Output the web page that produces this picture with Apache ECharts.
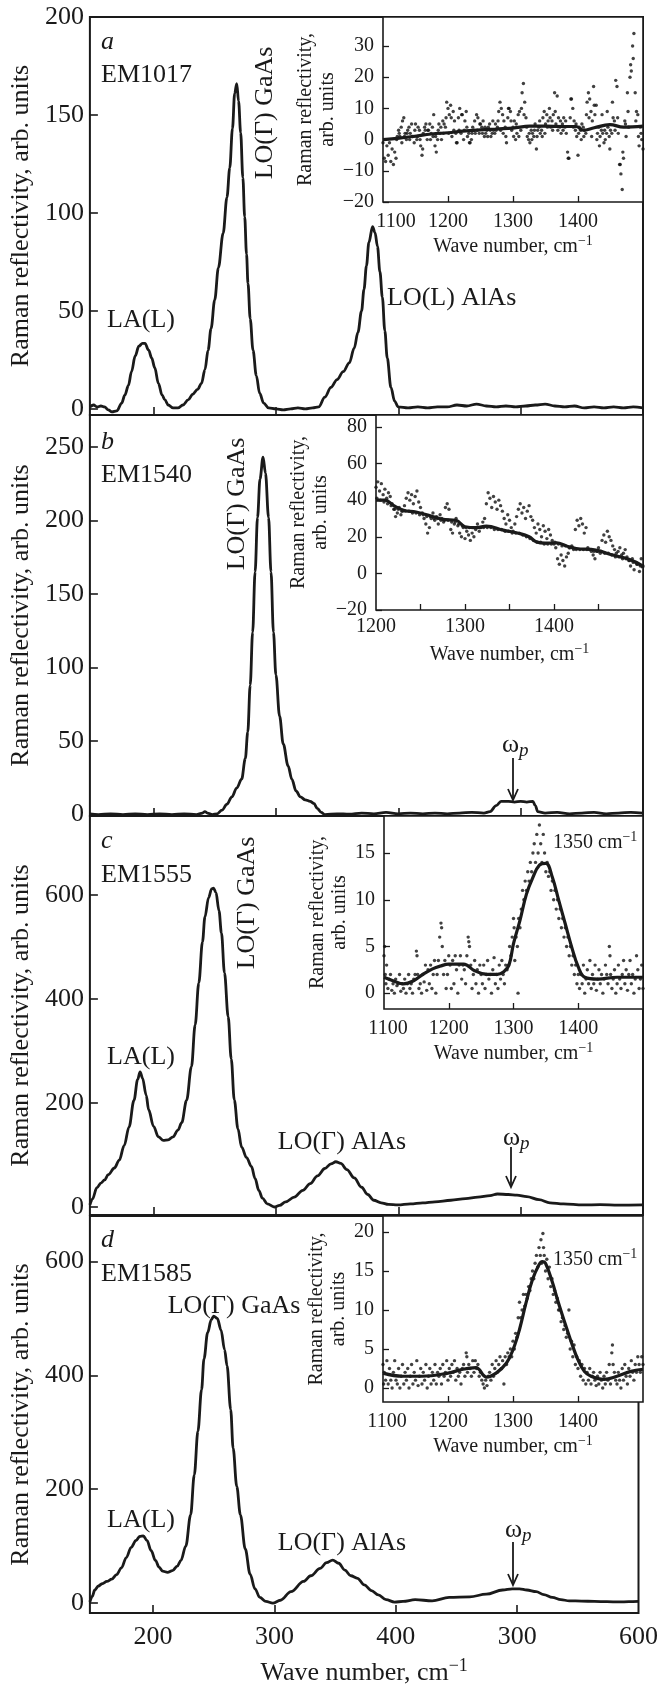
<!DOCTYPE html>
<html><head><meta charset="utf-8">
<script src="https://cdn.jsdelivr.net/npm/echarts@6/dist/echarts.min.js"></script>
<style>html,body{margin:0;padding:0;background:#fff}#c{width:661px;height:1687px}</style>
</head><body><div id="c"></div><script>
// ---------------- DATA ----------------
const xTickValues = [200, 300, 400, 500];
const xLabelValues = [200, 300, 400, 500, 600];
const xLabelTexts = ['200', '300', '400', '300', '600'];

const mainA = [[148,1],[151,2],[154,1],[157,1.5],[160,1],[163,-0.5],[166,-1.5],[170,-1],[174,3],[176.5,7],[179.5,12],[182,19],[185,27],[188,32],[191,33.5],[193,33.5],[196,30],[198.5,26],[201,21],[204,13],[207,7],[209.3,4.6],[212,2],[216,0.5],[220,0.5],[224,2],[228.3,4.6],[232,7.5],[236,10],[239.2,13],[242,20],[244.6,30],[247,41],[250,55.6],[253,72],[256.9,89.7],[260,108],[262.3,123],[264.5,143],[266.3,161],[268,166],[269.5,157],[271.2,141],[273,118],[274.5,98],[276,79],[277.2,64],[279,46],[281.3,30],[284,17],[286.7,8],[290,3],[294,0.5],[300,0],[306,-0.5],[312,0],[318,0.5],[324,0],[330,0.5],[335,1],[340,6],[345,11],[350,15],[355,19],[360,23.5],[364,31],[367,39],[370,50],[372,61],[374,73],[376,85],[379,93],[381,90],[383,83],[385,70],[387,57],[389,40],[391,26],[394,11],[397,4],[400,1],[408,0.5],[416,1],[424,0.5],[432,1],[440,1],[448,2],[456,1.5],[464,2.5],[472,1.5],[480,1],[488,1.5],[496,1],[504,1.5],[512,2],[520,2.5],[528,1.5],[536,1],[544,1.5],[552,0.5],[560,1],[568,0.5],[576,1],[584,0.5],[592,1],[600,0.5]];

const mainB = [[148,0.5],[155,0],[165,0.5],[175,0],[185,0.5],[195,0],[205,0.5],[215,0],[225,0.5],[235,0],[240,1],[242,2],[244,1],[248,0],[252,0.5],[256,3],[260,7],[264,12],[268,18],[272,24],[275,38],[277,56],[279,88],[281,124],[283,165],[285,202],[287,228],[289.5,243],[291.5,232],[294,202],[296,165],[298,124],[300,95],[303,67],[306,48],[310,33],[313,24],[316.5,16],[320,12],[324,10],[328,9],[331,7.5],[334,4],[337,1.5],[340,0],[350,0.5],[360,0.2],[370,1],[380,0.5],[390,1.5],[400,0.5],[410,1],[420,0.5],[430,1],[440,0.5],[450,1],[460,1.5],[470,1],[475,2],[480,6],[484,9],[490,9],[495,8.5],[500,9],[505,8.5],[510,9],[512,6],[514,2],[520,1],[530,1.5],[540,0.5],[550,1],[560,1.5],[570,0.5],[580,1],[590,1.5],[600,1]];

const mainC = [[148,4],[150,15],[153.7,37],[157,46],[160,52],[163,62],[168,75],[172,90],[176,118],[180,154],[184,205],[187,245],[189,260],[191,248],[194,215],[196,187],[200,155],[204,135],[208,128],[212,129],[216,135],[220,148],[223,162],[227,205],[231,270],[234,350],[237,431],[240,510],[242,558],[245,595],[247.5,612],[249,613],[251,605],[253.5,570],[255.5,527],[258,450],[261,366],[263.5,285],[266,206],[269,150],[272,115],[276,95],[280,78],[283,55],[286,32],[289,17],[293,6],[298.7,0],[303,3],[308,10],[315,19],[322,32],[328,45],[334,60],[340,74],[345,83],[349,87],[353,84],[358,72],[364,56],[370,38],[375,24],[380,13],[386,8],[392,5],[399.6,4],[410,6],[420,8],[430,10],[443,13],[455,16],[465,19],[475,22],[481,25],[490,24],[497,23],[505,20],[515,14],[524,8],[535,6],[551,4],[565,4.5],[580,3.5],[600,4]];

const mainD = [[148,2],[150,12],[152,23],[155,30],[158,34],[162,38],[166,42],[170,50],[174,62],[178,80],[182,98],[186,110],[189,117],[192,118],[195,110],[198.5,92],[202,75],[205,63],[208,56],[212,54],[216,57],[220,65],[223,75],[227,100],[231,155],[234,225],[237,302],[240,375],[242,429],[245,475],[248,498],[250,504],[253,500],[256,480],[259,445],[261,417],[264,340],[266,272],[269,205],[272,155],[276,95],[280,51],[284,25],[288,10],[293,3],[298.7,0],[305,5],[313.7,20],[324,38],[330,48],[337.7,61],[343,71],[348,75.5],[353,70],[358,58],[363,48],[368.5,43.6],[374,32],[380,22],[385.6,14.5],[392,6],[399,1.7],[406,3],[416,6],[430,4],[444,10],[461,11],[474.6,15.7],[488,23],[496,25],[502,25],[508,23],[515.7,20],[522,15],[529,10],[536,6],[543,4],[553,3.5],[563.7,3],[574,2.5],[584,2],[592,2.5],[600,3]];

const fitA = [[1100,0],[1125,0.5],[1146,1],[1175,1.8],[1200,2.2],[1223,2.7],[1250,3.1],[1275,3.4],[1300,3.7],[1326,4.3],[1350,4.3],[1375,4.2],[1397,4.2],[1408,3],[1425,3.8],[1449,4.8],[1470,4],[1500,4.3]];
const dotsA = [[1100,-1],[1102,-6],[1104,-7],[1106,-2],[1108,-5],[1110,-1],[1112,-7],[1114,-3],[1116,-8],[1118,-4],[1120,-6],[1122,1],[1124,3],[1126,1],[1128,4],[1130,6],[1132,7],[1134,2],[1136,0],[1138,3],[1140,4],[1142,2],[1144,5],[1146,1],[1148,-1],[1150,5],[1152,0],[1154,4],[1156,3],[1158,-2],[1160,-5],[1162,2],[1164,4],[1166,5],[1168,0],[1170,3],[1172,5],[1174,2],[1176,4],[1178,8],[1180,-2],[1182,-4],[1184,0],[1186,5],[1188,2],[1190,0],[1192,6],[1194,5],[1196,4],[1198,12],[1200,10],[1202,8],[1204,11],[1206,1],[1208,9],[1210,6],[1212,2],[1214,-1],[1216,7],[1218,10],[1220,2],[1222,8],[1224,0],[1226,6],[1228,9],[1230,1],[1232,2],[1234,-1],[1236,0],[1238,4],[1240,3],[1242,2],[1244,8],[1246,7],[1248,2],[1250,5],[1252,4],[1254,6],[1256,1],[1258,2],[1260,3],[1262,4],[1264,5],[1266,1],[1268,2],[1270,3],[1272,2],[1274,3],[1276,4],[1278,9],[1280,12],[1282,10],[1284,8],[1286,6],[1288,4],[1290,-1],[1292,7],[1294,10],[1296,9],[1298,3],[1300,4],[1302,6],[1304,0],[1306,2],[1308,8],[1310,9],[1312,3],[1314,15],[1316,18],[1318,12],[1320,7],[1322,1],[1324,0],[1326,-1],[1328,3],[1330,2],[1332,1],[1334,5],[1336,-3],[1338,3],[1340,4],[1342,2],[1344,3],[1346,7],[1348,9],[1350,5],[1352,8],[1354,6],[1356,10],[1358,4],[1360,6],[1362,8],[1364,15],[1366,5],[1368,14],[1370,7],[1372,4],[1374,2],[1376,5],[1378,7],[1380,4],[1382,2],[1384,-4],[1386,-6],[1388,7],[1390,13],[1392,10],[1394,6],[1396,3],[1398,1],[1400,-5],[1402,4],[1404,3],[1406,5],[1408,4],[1410,3],[1412,2],[1414,12],[1416,15],[1418,13],[1420,9],[1422,6],[1424,17],[1426,8],[1428,11],[1430,2],[1432,4],[1434,1],[1436,3],[1438,2],[1440,-1],[1442,0],[1444,2],[1446,4],[1448,1],[1450,3],[1452,2],[1454,7],[1456,6],[1458,19],[1460,17],[1462,2],[1464,-8],[1466,-11],[1468,-16],[1470,-6],[1472,6],[1474,1],[1476,15],[1478,4],[1480,20],[1482,22],[1484,30],[1486,34],[1488,15],[1490,9],[1492,8],[1494,-2],[1496,4],[1498,0],[1500,-3],
[1121,0],[1125,2],[1129,-1],[1133,1],[1137,2],[1141,0],[1145,1],[1149,3],[1153,1],[1157,0],[1161,-3],[1165,3],[1169,3],[1173,0],[1177,1],[1181,1],[1185,3],[1189,4],[1193,2],[1197,7],[1201,2],[1205,7],[1209,3],[1213,-1],[1217,3],[1221,8],[1225,3],[1229,4],[1233,-1],[1237,2],[1241,6],[1245,3],[1249,5],[1253,2],[1257,4],[1261,1],[1265,3],[1269,6],[1273,5],[1277,6],[1281,3],[1285,2],[1289,1],[1293,10],[1297,6],[1301,1],[1305,5],[1309,1],[1313,10],[1317,8],[1321,4],[1325,2],[1329,0],[1333,3],[1337,1],[1341,6],[1345,1],[1349,2],[1353,4],[1357,7],[1361,3],[1365,9],[1369,3],[1373,6],[1377,3],[1381,6],[1385,-6],[1389,13],[1393,4],[1397,5],[1401,2],[1405,0],[1409,1],[1413,8],[1417,7],[1421,1],[1425,11],[1429,0],[1433,-2],[1437,8],[1441,3],[1445,9],[1449,-3],[1453,12],[1457,3],[1461,7],[1465,-8],[1469,-4],[1473,5],[1477,9],[1481,24],[1485,26],[1489,6],[1493,1],[1497,2]];

const fitB = [[1200,40],[1210,40],[1220,37],[1231,34.5],[1245,33.5],[1261,31.5],[1275,29.5],[1290,29],[1300,25.5],[1313,25],[1324,25.8],[1343,23.6],[1361,21.8],[1372,20],[1380,17.3],[1390,16.5],[1403,16.7],[1414,15],[1425,13.6],[1447,12.7],[1466,10],[1485,7.6],[1498,4.5],[1500,3]];
const dotsB = [[1200,47],[1202,50],[1204,45],[1206,49],[1208,43],[1210,46],[1212,41],[1214,44],[1216,42],[1218,38],[1220,35],[1222,31],[1224,33],[1226,36],[1228,32],[1230,34],[1232,37],[1234,41],[1236,44],[1238,40],[1240,43],[1242,38],[1244,42],[1246,45],[1248,39],[1250,36],[1252,33],[1254,30],[1256,27],[1258,22],[1260,25],[1262,30],[1264,33],[1266,29],[1268,31],[1270,27],[1272,32],[1274,30],[1276,28],[1278,36],[1280,38],[1282,35],[1284,24],[1286,22],[1288,27],[1290,30],[1292,26],[1294,22],[1296,20],[1298,25],[1300,19],[1302,23],[1304,21],[1306,18],[1308,22],[1310,20],[1312,24],[1314,27],[1316,23],[1318,25],[1320,28],[1322,30],[1324,38],[1326,44],[1328,41],[1330,36],[1332,42],[1334,39],[1336,35],[1338,40],[1340,37],[1342,34],[1344,30],[1346,27],[1348,32],[1350,29],[1352,25],[1354,23],[1356,27],[1358,31],[1360,35],[1362,38],[1364,33],[1366,36],[1368,30],[1370,34],[1372,37],[1374,31],[1376,29],[1378,25],[1380,22],[1382,27],[1384,24],[1386,20],[1388,26],[1390,23],[1392,19],[1394,24],[1396,21],[1398,18],[1400,16],[1402,14],[1404,8],[1406,5],[1408,10],[1410,7],[1412,4],[1414,9],[1416,11],[1418,14],[1420,15],[1422,13],[1424,24],[1426,29],[1428,26],[1430,30],[1432,27],[1434,22],[1436,25],[1438,14],[1440,13],[1442,12],[1444,10],[1446,8],[1448,12],[1450,14],[1452,11],[1454,18],[1456,21],[1458,17],[1460,23],[1462,20],[1464,18],[1466,15],[1468,13],[1470,11],[1472,12],[1474,14],[1476,10],[1478,11],[1480,13],[1482,9],[1484,7],[1486,4],[1488,8],[1490,2],[1492,6],[1494,5],[1496,1],[1498,8],[1500,4],
[1201,41],[1205,40],[1209,39],[1213,38],[1217,37],[1221,35],[1225,35],[1229,34],[1233,34],[1237,34],[1241,33],[1245,33],[1249,32],[1253,32],[1257,31],[1261,31],[1265,30],[1269,30],[1273,29],[1277,29],[1281,29],[1285,28],[1289,28],[1293,27],[1297,26],[1301,25],[1305,25],[1309,25],[1313,25],[1317,25],[1321,25],[1325,25],[1329,25],[1333,24],[1337,24],[1341,24],[1345,23],[1349,23],[1353,22],[1357,22],[1361,22],[1365,21],[1369,20],[1373,19],[1377,18],[1381,17],[1385,17],[1389,16],[1393,16],[1397,16],[1401,17],[1405,16],[1409,15],[1413,15],[1417,14],[1421,14],[1425,13],[1429,13],[1433,13],[1437,13],[1441,13],[1445,12],[1449,12],[1453,12],[1457,11],[1461,11],[1465,10],[1469,9],[1473,9],[1477,8],[1481,8],[1485,7],[1489,6],[1493,5],[1497,4]];

const fitC = [[1100,1.7],[1115,1.3],[1130,1],[1145,1.3],[1160,2],[1175,2.6],[1187,2.9],[1200,3.1],[1223,3.1],[1240,2.4],[1260,2],[1275,2],[1285,2.3],[1293,3],[1300,5.3],[1310,7.8],[1320,10.6],[1330,12.4],[1340,13.7],[1350,13.9],[1360,12.4],[1370,9.9],[1380,7.4],[1390,4.9],[1400,2.8],[1410,1.7],[1430,1.5],[1460,1.7],[1500,1.7]];
const dotsC = [[1100,4],[1101,5],[1102,2],[1103,1],[1104,3],[1106,0.5],[1108,1.5],[1110,2],[1112,0.3],[1114,1],[1116,0],[1118,1.5],[1120,0.8],[1122,1],[1124,2],[1126,0.2],[1128,1],[1130,0.5],[1132,1.5],[1134,0],[1136,1],[1138,2],[1140,0.5],[1142,1],[1144,0],[1146,1.5],[1148,2],[1150,4.5],[1151,4],[1152,2],[1154,0.5],[1156,1],[1158,0],[1160,2],[1162,1.2],[1164,3],[1166,0.3],[1168,2.5],[1170,1],[1172,3],[1174,0.5],[1176,2],[1178,3.5],[1180,0],[1182,2],[1184,3.5],[1186,6],[1188,7.5],[1189,7],[1190,5],[1192,2],[1194,3.5],[1196,0.5],[1198,2],[1200,4],[1202,3],[1204,0.5],[1206,3.5],[1208,1],[1210,4],[1212,2.5],[1214,0],[1216,3],[1218,4],[1220,1.5],[1222,3],[1224,2.5],[1226,1],[1228,4],[1230,6],[1231,5.5],[1232,5],[1234,3],[1236,0.5],[1238,2],[1240,3.5],[1242,1],[1244,2.5],[1246,0],[1248,3],[1250,2],[1252,1],[1254,3],[1256,0.5],[1258,2],[1260,3.5],[1262,1.5],[1264,2],[1266,0],[1268,2.5],[1270,3.8],[1272,1],[1274,2],[1276,0.5],[1278,3],[1280,1.5],[1282,3.5],[1284,2],[1286,1],[1288,3],[1290,2.5],[1292,3],[1294,5],[1296,4],[1298,6],[1300,8],[1301,7],[1302,3.5],[1304,6],[1306,5],[1307,0],[1308,8],[1310,7],[1312,9],[1314,11],[1316,10],[1318,12],[1320,11],[1322,13],[1324,12],[1326,14],[1328,13],[1330,15],[1332,16],[1334,14],[1336,17],[1338,15],[1340,18],[1342,16],[1344,14],[1346,17],[1348,15],[1350,13],[1352,14],[1354,12.5],[1356,13],[1358,11],[1360,12],[1362,10],[1364,11],[1366,9],[1368,10],[1370,8],[1372,9],[1374,7],[1376,8],[1378,6],[1380,7],[1382,5],[1384,6],[1386,4],[1388,5],[1390,3],[1392,4],[1394,2],[1396,3],[1398,1],[1400,2],[1402,0.5],[1404,2],[1406,1],[1408,3],[1410,0],[1412,1.5],[1414,2.5],[1416,1],[1418,3.5],[1420,0.5],[1422,2],[1424,1],[1426,3],[1428,0.3],[1430,1.5],[1432,2.5],[1434,1],[1436,2],[1438,0],[1440,1.5],[1442,3],[1444,2],[1446,1],[1448,5],[1449,4],[1450,2],[1452,0.5],[1454,1.5],[1456,2.5],[1458,0],[1460,1],[1462,3],[1464,1.5],[1466,0.5],[1468,2],[1470,3.5],[1472,1],[1474,2.5],[1476,0.3],[1478,2],[1480,3.5],[1482,1],[1484,2],[1486,0],[1488,1.5],[1490,4],[1492,2.5],[1494,0.5],[1496,1.5],[1498,3],[1500,0.5]];

const fitD = [[1100,1.9],[1130,1.5],[1160,1.5],[1200,1.9],[1223,2.4],[1243,2.6],[1259,1.4],[1274,1.9],[1290,3.2],[1300,4.9],[1310,7.5],[1320,10.9],[1330,13.9],[1340,15.8],[1345,16.2],[1350,16],[1360,13.7],[1370,10.9],[1380,8.3],[1390,5.8],[1400,3.6],[1410,2.1],[1420,1.5],[1440,1.1],[1460,1.5],[1480,2.1],[1500,2.4]];
const dotsD = [[1100,3],[1101,0.5],[1102,2],[1104,1],[1106,3.5],[1108,0.5],[1110,2.5],[1112,1],[1114,0],[1116,2],[1118,3.5],[1120,1],[1122,0.5],[1124,2.5],[1126,0],[1128,1.5],[1130,3],[1132,0.5],[1134,2],[1136,1],[1138,2.5],[1140,0],[1142,1.5],[1144,3],[1146,0.5],[1148,2],[1150,1],[1152,3.5],[1154,0.3],[1156,1.5],[1158,2.5],[1160,0.5],[1162,2],[1164,1],[1166,3],[1168,0],[1170,1.5],[1172,2.5],[1174,0.5],[1176,2],[1178,1],[1180,3],[1182,0.5],[1184,2],[1186,1.5],[1188,2.5],[1190,0.5],[1192,3],[1194,1.5],[1196,2],[1198,3.5],[1200,1],[1202,2.5],[1204,1.5],[1206,3],[1208,2],[1210,3.5],[1212,1],[1214,2.5],[1216,1.5],[1218,2],[1220,0.5],[1222,2.5],[1224,3],[1226,1.5],[1228,4.5],[1229,4],[1230,2],[1232,3],[1234,2.5],[1236,1.5],[1238,3.5],[1240,2],[1242,3.5],[1244,2.5],[1246,3],[1248,1.5],[1250,2],[1252,1],[1254,0.5],[1256,0],[1258,1],[1260,0.3],[1262,1.5],[1264,2],[1266,1],[1268,3],[1270,1.5],[1272,2.5],[1274,3.5],[1276,2],[1278,3],[1280,4],[1282,2.5],[1284,3.5],[1286,0.5],[1288,4],[1290,3],[1292,4.5],[1294,4],[1296,5],[1298,4],[1300,6],[1302,5],[1304,7],[1306,6.5],[1308,9],[1310,11],[1312,9],[1314,10],[1316,12],[1318,10.5],[1320,12],[1322,11.5],[1324,13],[1326,12.5],[1328,14],[1330,15],[1332,14],[1334,16],[1336,17],[1338,15.5],[1340,18],[1342,17],[1343,19],[1344,16],[1346,19.8],[1347,18],[1348,17],[1350,15],[1352,16.5],[1354,14],[1356,15.5],[1358,13],[1360,14],[1362,12],[1364,12.5],[1366,11],[1368,11.5],[1370,10],[1372,10],[1374,8.5],[1376,9],[1378,7.5],[1380,8],[1382,6.5],[1384,7],[1386,10],[1388,5],[1390,6],[1392,4],[1394,5.5],[1396,3],[1398,4],[1400,2.5],[1402,3.5],[1404,1.5],[1406,3],[1408,1],[1410,2.5],[1412,0.5],[1414,2],[1416,1],[1418,2.5],[1420,0.5],[1422,1.5],[1424,2],[1426,1],[1428,0.3],[1430,1.5],[1432,0.5],[1434,2],[1436,1],[1438,0],[1440,1.5],[1442,0.5],[1444,2],[1446,1],[1448,3],[1450,0.5],[1452,4.5],[1453,5.5],[1454,3],[1456,2],[1458,1],[1460,0.5],[1462,2],[1464,1],[1466,0],[1468,2.5],[1470,1],[1472,3],[1474,1.5],[1476,0.5],[1478,2.5],[1480,1.5],[1482,3.5],[1484,2],[1486,1],[1488,3],[1490,2],[1492,4],[1494,3],[1496,2],[1498,4],[1500,3]];

const mainYTicks = [[0,50,100,150,200],[0,50,100,150,200,250],[0,200,400,600],[0,200,400,600]];
const insetYTicks = [[-20,-10,0,10,20,30],[-20,0,20,40,60,80],[0,5,10,15],[0,5,10,15,20]];
const insetXLabels = [[1100,1200,1300,1400],[1200,1300,1400],[1100,1200,1300,1400],[1100,1200,1300,1400]];
const insetXTicks = [[1200,1300,1400],[1250,1300,1350,1400,1450],[1200,1300,1400],[1200,1300,1400]];

// ---------------- LAYOUT / STYLE ----------------
const FONT = '"Liberation Serif","Times New Roman",Times,serif';
const INK = '#1a1a1a';
const mainRanges = [[-3.1,200],[-1,271.6],[-15.4,752],[-17.4,680]];
const insetXRanges = [[1100,1500],[1200,1500],[1100,1500],[1100,1500]];
const insetYRanges = [[-20,39.3],[-20,86.5],[-1.7,18.97],[-1.8,22.05]];
const grids = [
  {left:88, top:17, width:555, height:398},
  {left:88, top:415, width:555, height:401},
  {left:88, top:816, width:555, height:399},
  {left:88, top:1216, width:555, height:400},
  {left:383, top:17, width:260, height:185},
  {left:376, top:415, width:267, height:195},
  {left:384, top:816, width:259, height:193},
  {left:383, top:1216, width:260, height:186}
].map((g,i)=>Object.assign(g,{show:true, borderColor:INK, borderWidth: i<4?2:1.6, backgroundColor: i<4?'transparent':'#fff', containLabel:false}));

const insetNameGap = [42, 36, 28, 28];
const insetLabelMargin = [10, 7, 10, 10];
const firstLabelShift = [26, 0, 8, 8];
const minus = v => (v < 0 ? '\u2212' + Math.abs(v) : String(v));
const plain = v => String(v);
const supRich = (fs) => ({a:{fontFamily:FONT,fontSize:fs,color:INK}, s:{fontFamily:FONT,fontSize:Math.round(fs*0.68),color:INK,padding:[0,0,Math.round(fs*0.55),0]}});

const xAxes = [], yAxes = [], series = [];
for (let i=0;i<4;i++){
  xAxes.push({type:'value', gridIndex:i, min:148, max:600,
    axisLine:{show:false, onZero:false}, splitLine:{show:false},
    axisTick:{show:true, inside:true, length:8, customValues:xTickValues, lineStyle:{color:INK,width:1.6}},
    axisLabel:{show:i===3, customValues:xLabelValues, formatter:v=>xLabelTexts[xLabelValues.indexOf(v)], fontFamily:FONT, fontSize:26, color:INK, margin:11},
    name: i===3 ? '{a|Wave number, cm}{s|\u22121}' : '', nameLocation:'middle', nameGap:44,
    nameTextStyle:{rich:supRich(26)}});
  yAxes.push({type:'value', gridIndex:i, min:mainRanges[i][0], max:mainRanges[i][1],
    axisLine:{show:false, onZero:false}, splitLine:{show:false},
    axisTick:{show:true, inside:true, length:8, customValues:mainYTicks[i], lineStyle:{color:INK,width:1.6}},
    axisLabel:{customValues:mainYTicks[i], formatter:plain, fontFamily:FONT, fontSize:26, color:INK, margin:6},
    name:'Raman reflectivity, arb. units', nameLocation:'middle', nameRotate:90, nameGap:54,
    nameTextStyle:{fontFamily:FONT, fontSize:26, color:INK}});
}
for (let i=0;i<4;i++){
  const first = insetXLabels[i][0], sh = firstLabelShift[i];
  xAxes.push({type:'value', gridIndex:4+i, min:insetXRanges[i][0], max:insetXRanges[i][1],
    axisLine:{show:false, onZero:false}, splitLine:{show:false},
    axisTick:{show:true, inside:true, length:6, customValues:insetXTicks[i], lineStyle:{color:INK,width:1.3}},
    axisLabel:{customValues:insetXLabels[i], formatter:v => (v===first && sh ? '{m|'+v+'}' : String(v)),
      rich:{m:{fontFamily:FONT, fontSize:20, color:INK, padding:[0,0,0,sh]}},
      showMinLabel:true, fontFamily:FONT, fontSize:20, color:INK, margin:insetLabelMargin[i]},
    name:'{a|Wave number, cm}{s|\u22121}', nameLocation:'middle', nameGap:32,
    nameTextStyle:{rich:supRich(20)}});
  yAxes.push({type:'value', gridIndex:4+i, min:insetYRanges[i][0], max:insetYRanges[i][1],
    axisLine:{show:false, onZero:false}, splitLine:{show:false},
    axisTick:{show:true, inside:true, length:6, customValues:insetYTicks[i], lineStyle:{color:INK,width:1.3}},
    axisLabel:{customValues:insetYTicks[i], formatter:minus, fontFamily:FONT, fontSize:20, color:INK, margin:9},
    name:'Raman reflectivity,\narb. units', nameLocation:'middle', nameRotate:90, nameGap:insetNameGap[i],
    nameTextStyle:{fontFamily:FONT, fontSize:20, lineHeight:22, color:INK}});
}
[mainA, mainB, mainC, mainD].forEach((d,i)=>{
  series.push({type:'line', xAxisIndex:i, yAxisIndex:i, data:d, showSymbol:false, smooth:0.35, smoothMonotone:'x',
    lineStyle:{color:INK, width:2.8}, silent:true, z:3});
});
[[dotsA,fitA],[dotsB,fitB],[dotsC,fitC],[dotsD,fitD]].forEach(([dots,fit],i)=>{
  series.push({type:'scatter', xAxisIndex:4+i, yAxisIndex:4+i, data:dots, symbol:'circle', symbolSize:3.4,
    itemStyle:{color:'#111'}, silent:true, z:4});
  series.push({type:'line', xAxisIndex:4+i, yAxisIndex:4+i, data:fit, showSymbol:false, smooth:0.4,
    lineStyle:{color:INK, width:3.2}, silent:true, z:5});
});

// ---------------- ANNOTATIONS ----------------
function txt(x,y,text,o){
  o=o||{};
  return {type:'text', x:x, y:y, rotation:o.rot||0, z:10,
    style:{text:text, fill:INK, font:(o.italic?'italic ':'')+(o.fs||26)+'px '+FONT,
      fontFamily:FONT, fontSize:o.fs||26, fontStyle:o.italic?'italic':'normal',
      align:o.align||'left', verticalAlign:'middle', textAlign:o.align||'left', textVerticalAlign:'middle',
      rich:o.rich}};
}
const omegaRich = {w:{fontFamily:FONT,fontSize:26,color:INK}, p:{fontFamily:FONT,fontSize:19,fontStyle:'italic',color:INK,padding:[12,0,0,0]}};
const cmRich = supRich(20);
function arrow(x,y1,y2){
  return [
    {type:'line', z:10, shape:{x1:x,y1:y1,x2:x,y2:y2}, style:{stroke:INK,lineWidth:1.8}},
    {type:'polyline', z:10, shape:{points:[[x-5,y2-11],[x,y2],[x+5,y2-11]]}, style:{stroke:INK,lineWidth:1.8,fill:null}}
  ];
}
const graphics = [
  txt(101,42,'a',{italic:true}), txt(101,75,'EM1017'),
  txt(141,320,'LA(L)',{align:'center'}),
  txt(265,113,'LO(\u0393) GaAs',{align:'center',rot:Math.PI/2}),
  txt(387,298,'LO(L) AlAs'),
  txt(101,442,'b',{italic:true}), txt(101,475,'EM1540'),
  txt(237,504,'LO(\u0393) GaAs',{align:'center',rot:Math.PI/2}),
  txt(502,745,'{w|\u03c9}{p|p}',{rich:omegaRich}),
  ...arrow(513,758,800),
  txt(101,841,'c',{italic:true}), txt(101,875,'EM1555'),
  txt(141,1057,'LA(L)',{align:'center'}),
  txt(247,903,'LO(\u0393) GaAs',{align:'center',rot:Math.PI/2}),
  txt(342,1142,'LO(\u0393) AlAs',{align:'center'}),
  txt(503,1138,'{w|\u03c9}{p|p}',{rich:omegaRich}),
  ...arrow(511,1147,1187),
  txt(553,843,'{a|1350 cm}{s|\u22121}',{rich:cmRich}),
  txt(101,1240,'d',{italic:true}), txt(101,1274,'EM1585'),
  txt(141,1520,'LA(L)',{align:'center'}),
  txt(234,1306,'LO(\u0393) GaAs',{align:'center'}),
  txt(342,1543,'LO(\u0393) AlAs',{align:'center'}),
  txt(505,1530,'{w|\u03c9}{p|p}',{rich:omegaRich}),
  ...arrow(513,1542,1585),
  txt(553,1260,'{a|1350 cm}{s|\u22121}',{rich:cmRich})
];

const chart = echarts.init(document.getElementById('c'), null, {renderer:'canvas'});
chart.setOption({
  animation:false, backgroundColor:'#fff',
  grid:grids, xAxis:xAxes, yAxis:yAxes, series:series, graphic:{elements:graphics}
});
</script></body></html>
